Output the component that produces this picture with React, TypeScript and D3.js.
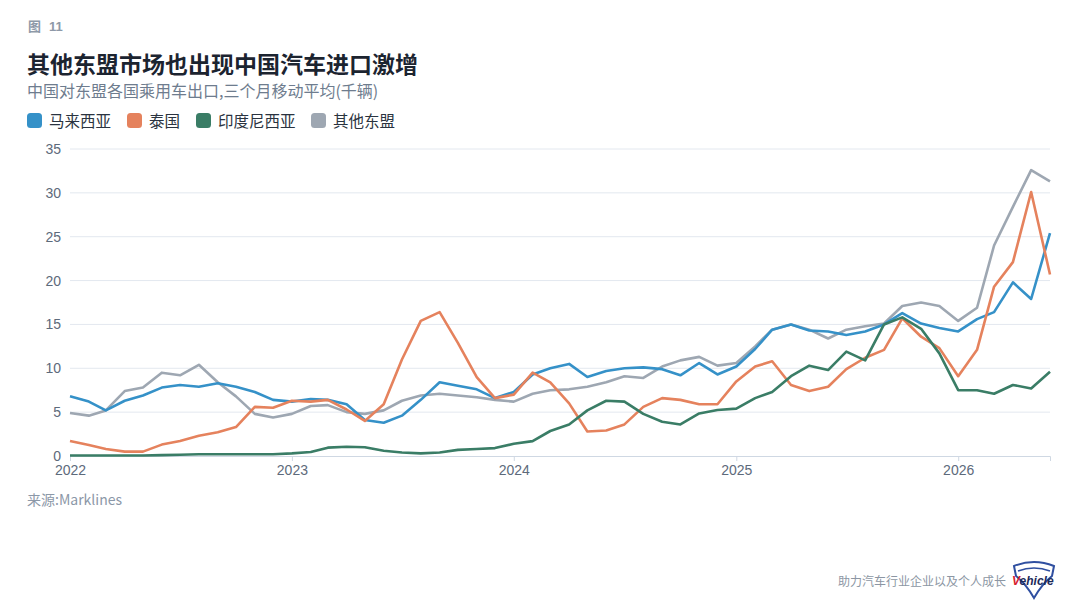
import React, { useRef, useEffect } from 'react';
import * as d3 from 'd3';

// monthly, Jan 2022 .. Jun 2026 (3-month moving average, thousand units)
const months = d3.timeMonth.range(new Date(2022, 0, 1), new Date(2026, 6, 1));

const malaysia = [
  6.8, 6.2, 5.2, 6.3, 6.9, 7.8, 8.1, 7.9, 8.3, 7.9, 7.3, 6.4,
  6.2, 6.5, 6.4, 5.9, 4.1, 3.8, 4.6, 6.4, 8.4, 8.0, 7.6, 6.6,
  7.3, 9.3, 10.0, 10.5, 9.0, 9.7, 10.0, 10.1, 9.9, 9.2, 10.6, 9.3,
  10.2, 12.2, 14.4, 15.0, 14.3, 14.2, 13.8, 14.2, 15.0, 16.3, 15.1, 14.6,
  14.2, 15.6, 16.4, 19.8, 17.9, 25.4,
];
const thailand = [
  1.7, 1.25, 0.8, 0.5, 0.5, 1.3, 1.7, 2.3, 2.7, 3.3, 5.6, 5.5,
  6.3, 6.2, 6.4, 5.3, 4.0, 5.9, 11.0, 15.4, 16.4, 12.9, 9.0, 6.6,
  7.0, 9.5, 8.4, 6.0, 2.8, 2.9, 3.6, 5.6, 6.6, 6.4, 5.9, 5.9,
  8.5, 10.2, 10.8, 8.1, 7.4, 7.9, 9.9, 11.2, 12.1, 15.7, 13.6, 12.3,
  9.1, 12.1, 19.3, 22.1, 30.1, 20.7,
];
const indonesia = [
  0.05, 0.05, 0.05, 0.05, 0.05, 0.1, 0.15, 0.2, 0.2, 0.2, 0.2, 0.2,
  0.3, 0.45, 0.95, 1.05, 1.0, 0.6, 0.4, 0.3, 0.4, 0.7, 0.8, 0.9,
  1.4, 1.7, 2.85, 3.6, 5.2, 6.3, 6.2, 4.8, 3.9, 3.6, 4.85, 5.25,
  5.4, 6.6, 7.3, 9.1, 10.3, 9.8, 11.9, 10.9, 15.0, 15.8, 14.5, 11.7,
  7.5, 7.5, 7.1, 8.1, 7.7, 9.6,
];
const otherAsean = [
  4.9, 4.6, 5.2, 7.4, 7.8, 9.5, 9.2, 10.4, 8.4, 6.8, 4.8, 4.4,
  4.8, 5.7, 5.8, 5.0, 4.8, 5.2, 6.3, 6.9, 7.1, 6.9, 6.7, 6.4,
  6.2, 7.1, 7.5, 7.6, 7.9, 8.4, 9.1, 8.9, 10.2, 10.9, 11.3, 10.3,
  10.6, 12.5, 14.4, 15.0, 14.4, 13.4, 14.4, 14.8, 15.1, 17.1, 17.5, 17.1,
  15.4, 16.9, 24.0, 28.4, 32.6, 31.3,
];

const seriesNames = ['马来西亚', '泰国', '印度尼西亚', '其他东盟'];
const seriesColors = ['#3591c8', '#e5825d', '#3a7d66', '#9ea7b2'];
const seriesValues = [malaysia, thailand, indonesia, otherAsean];
const yTicks = [0, 5, 10, 15, 20, 25, 30, 35];

const CJK = '"Noto Sans CJK SC", "Noto Sans", sans-serif';
const NUM = '"Liberation Sans", "Noto Sans CJK SC", sans-serif';

const App: React.FC = () => {
  const svgRef = useRef<SVGSVGElement | null>(null);

  useEffect(() => {
    document.body.style.margin = '0';
    if (!svgRef.current) return;
    const w = 1080;
    const h = 614;
    const svg = d3.select(svgRef.current).attr('width', w).attr('height', h);
    svg.selectAll('*').remove();

    svg.append('rect').attr('width', w).attr('height', h).attr('fill', '#fff');

    // header
    svg.append('text').attr('x', 28).attr('y', 31).text('图')
      .attr('font-family', CJK).attr('font-size', 13).attr('font-weight', 700).attr('fill', '#8e99a8');
    svg.append('text').attr('x', 49).attr('y', 31).text('11')
      .attr('font-family', NUM).attr('font-size', 13).attr('font-weight', 700).attr('fill', '#8e99a8');
    svg.append('text').attr('x', 27).attr('y', 73).text('其他东盟市场也出现中国汽车进口激增')
      .attr('font-family', CJK).attr('font-size', 23).attr('font-weight', 700).attr('fill', '#1c2430');
    svg.append('text').attr('x', 27).attr('y', 97).text('中国对东盟各国乘用车出口,三个月移动平均(千辆)')
      .attr('font-family', CJK).attr('font-size', 16).attr('fill', '#6e7c8e');

    // legend
    const legendX = [27, 127, 196, 311];
    seriesNames.forEach((name, i) => {
      svg.append('rect').attr('x', legendX[i]).attr('y', 113).attr('width', 15).attr('height', 15)
        .attr('rx', 3.5).attr('fill', seriesColors[i]);
      svg.append('text').attr('x', legendX[i] + 22).attr('y', 126.5).text(name)
        .attr('font-family', CJK).attr('font-size', 15.5).attr('fill', '#2a3340');
    });

    const x = d3.scaleTime()
      .domain([months[0], months[months.length - 1]])
      .range([70, 1050]);
    const y = d3.scaleLinear().domain([0, 35]).range([456, 149]);

    // grid + y labels
    const grid = svg.append('g');
    grid.selectAll('line').data(yTicks.filter((t) => t > 0)).join('line')
      .attr('x1', 70).attr('x2', 1050)
      .attr('y1', (d) => y(d)).attr('y2', (d) => y(d))
      .attr('stroke', '#e3e8ef').attr('stroke-width', 1);
    grid.selectAll('text').data(yTicks).join('text')
      .attr('x', 61).attr('y', (d) => y(d) + 5).attr('text-anchor', 'end')
      .text((d) => String(d))
      .attr('font-family', NUM).attr('font-size', 14).attr('fill', '#5d6a7b');

    // x axis
    const xAxis = d3.axisBottom(x)
      .ticks(d3.timeYear.every(1))
      .tickFormat((d) => d3.timeFormat('%Y')(d as Date))
      .tickSize(5)
      .tickPadding(4);
    const gx = svg.append('g').attr('transform', 'translate(0, 456)').call(xAxis);
    gx.select('.domain').attr('stroke', '#cfd8e3');
    gx.selectAll('.tick line').attr('stroke', '#cfd8e3');
    gx.selectAll('.tick text').attr('font-family', NUM).attr('font-size', 14).attr('fill', '#5d6a7b');

    // lines
    const line = d3.line<number>()
      .x((_, i) => x(months[i]))
      .y((d) => y(d));
    // draw order: gray, blue, orange, green on top
    [3, 0, 1, 2].forEach((k) => {
      svg.append('path')
        .datum(seriesValues[k])
        .attr('d', line)
        .attr('fill', 'none')
        .attr('stroke', seriesColors[k])
        .attr('stroke-width', 2.6)
        .attr('stroke-linejoin', 'round');
    });

    // source
    svg.append('text').attr('x', 27).attr('y', 505).text('来源:Marklines')
      .attr('font-family', CJK).attr('font-size', 14).attr('fill', '#8c98a8');

    // footer
    svg.append('text').attr('x', 838).attr('y', 586).text('助力汽车行业企业以及个人成长')
      .attr('font-family', CJK).attr('font-size', 12).attr('fill', '#8c96a3');
    const logo = svg.append('g').attr('transform', 'translate(1012, 562)');
    logo.append('path')
      .attr('d', 'M2,4 Q22,-4 42,4 L40,14 Q30,22 22,36 Q14,22 4,14 Z')
      .attr('fill', 'none').attr('stroke', '#2f4fa0').attr('stroke-width', 2);
    logo.append('path')
      .attr('d', 'M6,9 Q22,3 38,9')
      .attr('fill', 'none').attr('stroke', '#2f4fa0').attr('stroke-width', 1.5);
    const lt = logo.append('text').attr('x', 0).attr('y', 23)
      .attr('font-family', NUM).attr('font-size', 12).attr('font-weight', 700).attr('font-style', 'italic');
    lt.append('tspan').text('V').attr('fill', '#d8232f');
    lt.append('tspan').text('ehicle').attr('fill', '#1c2a5a');
  }, []);

  return (
    <div style={{ width: 1080, height: 614 }}>
      <svg ref={svgRef} style={{ display: 'block' }}></svg>
    </div>
  );
};

export default App;
